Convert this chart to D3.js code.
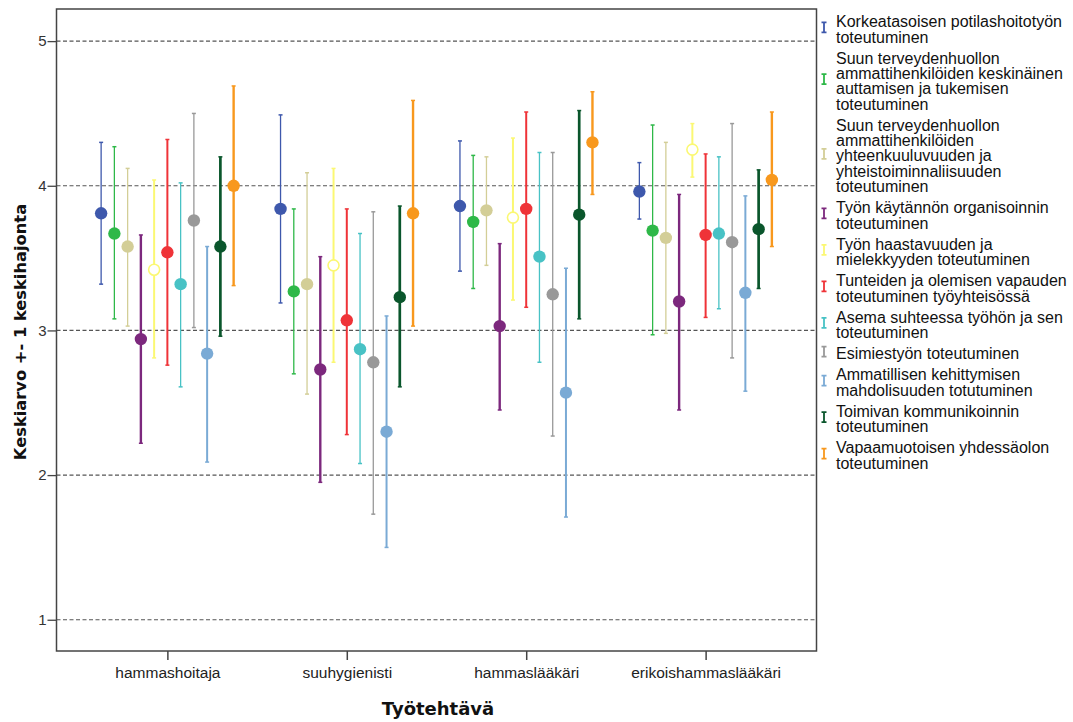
<!DOCTYPE html>
<html>
<head>
<meta charset="utf-8">
<script src="https://cdn.jsdelivr.net/npm/d3@7"></script>
<style>
  body { margin: 0; background: #fff; }
  svg { display: block; }
</style>
</head>
<body>
<div id="chart"></div>
<script>
// ***** DATA *****
var categories = ["hammashoitaja", "suuhygienisti", "hammaslääkäri", "erikoishammaslääkäri"];

var seriesNames = [
  ["Korkeatasoisen potilashoitotyön", "toteutuminen"],
  ["Suun terveydenhuollon", "ammattihenkilöiden keskinäinen", "auttamisen ja tukemisen", "toteutuminen"],
  ["Suun terveydenhuollon", "ammattihenkilöiden", "yhteenkuuluvuuden ja", "yhteistoiminnaliisuuden", "toteutuminen"],
  ["Työn käytännön organisoinnin", "toteutuminen"],
  ["Työn haastavuuden ja", "mielekkyyden toteutuminen"],
  ["Tunteiden ja olemisen vapauden", "toteutuminen työyhteisössä"],
  ["Asema suhteessa työhön ja sen", "toteutuminen"],
  ["Esimiestyön toteutuminen"],
  ["Ammatillisen kehittymisen", "mahdolisuuden totutuminen"],
  ["Toimivan kommunikoinnin", "toteutuminen"],
  ["Vapaamuotoisen yhdessäolon", "toteutuminen"]
];

var seriesColors = ["#3e58ac", "#2eb848", "#d3ce97", "#7c287d", "#fbf873", "#ef3338",
                    "#48c2c5", "#999999", "#7aaad5", "#0a562c", "#f8981d"];

// mean per series, one value per category
var means = [
  [3.81, 3.84, 3.86, 3.96],
  [3.67, 3.27, 3.75, 3.69],
  [3.58, 3.32, 3.83, 3.64],
  [2.94, 2.73, 3.03, 3.20],
  [3.42, 3.45, 3.78, 4.25],
  [3.54, 3.07, 3.84, 3.66],
  [3.32, 2.87, 3.51, 3.67],
  [3.76, 2.78, 3.25, 3.61],
  [2.84, 2.30, 2.57, 3.26],
  [3.58, 3.23, 3.80, 3.70],
  [4.00, 3.81, 4.30, 4.04]
];
// mean + 1 SD
var upper = [
  [4.30, 4.49, 4.31, 4.16],
  [4.27, 3.84, 4.21, 4.42],
  [4.12, 4.09, 4.20, 4.30],
  [3.66, 3.51, 3.60, 3.94],
  [4.04, 4.12, 4.33, 4.43],
  [4.32, 3.84, 4.51, 4.22],
  [4.02, 3.67, 4.23, 4.20],
  [4.50, 3.82, 4.23, 4.43],
  [3.58, 3.10, 3.43, 3.93],
  [4.20, 3.86, 4.52, 4.11],
  [4.69, 4.59, 4.65, 4.51]
];
// mean - 1 SD
var lower = [
  [3.32, 3.19, 3.41, 3.77],
  [3.08, 2.70, 3.29, 2.97],
  [3.03, 2.56, 3.45, 2.98],
  [2.22, 1.95, 2.45, 2.45],
  [2.81, 2.78, 3.21, 4.06],
  [2.76, 2.28, 3.16, 3.09],
  [2.61, 2.08, 2.78, 3.15],
  [3.02, 1.73, 2.27, 2.81],
  [2.09, 1.50, 1.71, 2.58],
  [2.96, 2.61, 3.08, 3.29],
  [3.31, 3.03, 3.94, 3.58]
];

var yTicks = [1, 2, 3, 4, 5];

// ***** SETUP *****
var W = 1073, H = 722;
var margin = {top: 9, right: 256.5, bottom: 71, left: 56.5};
var width = W - margin.left - margin.right;
var height = H - margin.top - margin.bottom;

var lineWidths = [1.3, 1.3, 1.3, 2.4, 2, 2, 1.3, 1.3, 2, 2.7, 2.4];
var openDot = [false, false, false, false, true, false, false, false, false, false, false];

var svg = d3.select("#chart").append("svg")
  .attr("width", W)
  .attr("height", H);

var g = svg.append("g")
  .attr("transform", "translate(" + margin.left + "," + margin.top + ")");

var xScale = d3.scalePoint()
  .domain(categories)
  .range([0, width])
  .padding(0.618);

var seriesIdx = d3.range(seriesNames.length);
var offset = d3.scaleLinear()
  .domain([0, seriesNames.length - 1])
  .range([-66.25, 66.25]);

var yScale = d3.scaleLinear()
  .domain([0.784, 5.222])
  .range([height, 0]);

// grid lines (dashed)
g.append("g").selectAll("line")
  .data(yTicks)
  .join("line")
  .attr("x1", 0).attr("x2", width)
  .attr("y1", d => yScale(d)).attr("y2", d => yScale(d))
  .attr("stroke", "#555")
  .attr("stroke-width", 1.2)
  .attr("stroke-dasharray", "4,2.5");

// y axis
var yAxis = g.append("g")
  .call(d3.axisLeft(yScale).tickValues(yTicks).tickSize(9).tickFormat(d3.format("d")));
yAxis.select(".domain").remove();
yAxis.selectAll("line").attr("stroke", "#444").attr("stroke-width", 1.3);
yAxis.selectAll("text")
  .attr("x", -10)
  .style("font-family", "'Liberation Sans', Arial, sans-serif")
  .style("font-size", "15px")
  .attr("fill", "#333");

// x axis
var xAxis = g.append("g")
  .attr("transform", "translate(0," + height + ")")
  .call(d3.axisBottom(xScale).tickSize(9).tickPadding(7));
xAxis.select(".domain").remove();
xAxis.selectAll("line").attr("stroke", "#444").attr("stroke-width", 1.5);
xAxis.selectAll("text")
  .style("font-family", "'Liberation Sans', Arial, sans-serif")
  .style("font-size", "15.5px")
  .attr("fill", "#222");

// frame
g.append("rect")
  .attr("width", width).attr("height", height)
  .attr("fill", "none")
  .attr("stroke", "#444")
  .attr("stroke-width", 1.5);

// error bars + means
seriesIdx.forEach(function(s) {
  var sg = g.append("g");
  var pts = categories.map((c, i) => ({c: c, m: means[s][i], hi: upper[s][i], lo: lower[s][i]}));
  var cx = d => xScale(d.c) + offset(s);

  sg.selectAll("line.bar").data(pts).join("line")
    .attr("class", "bar")
    .attr("x1", cx).attr("x2", cx)
    .attr("y1", d => yScale(d.hi)).attr("y2", d => yScale(d.lo))
    .attr("stroke", seriesColors[s])
    .attr("stroke-width", lineWidths[s]);

  ["hi", "lo"].forEach(function(k) {
    sg.selectAll("line.cap" + k).data(pts).join("line")
      .attr("class", "cap" + k)
      .attr("x1", d => cx(d) - 2).attr("x2", d => cx(d) + 2)
      .attr("y1", d => yScale(d[k])).attr("y2", d => yScale(d[k]))
      .attr("stroke", seriesColors[s])
      .attr("stroke-width", 1.5);
  });

  sg.selectAll("circle").data(pts).join("circle")
    .attr("cx", cx)
    .attr("cy", d => yScale(d.m))
    .attr("r", openDot[s] ? 5.5 : 6.2)
    .attr("fill", openDot[s] ? "#fff" : seriesColors[s])
    .attr("stroke", seriesColors[s])
    .attr("stroke-width", openDot[s] ? 1.6 : 0);
});

// axis titles
svg.append("text")
  .attr("x", 438).attr("y", 715)
  .attr("text-anchor", "middle")
  .style("font-family", "'DejaVu Sans', sans-serif")
  .style("font-weight", "bold")
  .style("font-size", "18px")
  .attr("fill", "#111")
  .text("Työtehtävä");

svg.append("text")
  .attr("transform", "translate(26,332) rotate(-90)")
  .attr("text-anchor", "middle")
  .style("font-family", "'DejaVu Sans', sans-serif")
  .style("font-weight", "bold")
  .style("font-size", "16.3px")
  .attr("fill", "#111")
  .text("Keskiarvo +- 1 keskihajonta");

// legend
var lineH = 15.3, itemGap = 5.9;
var legend = svg.append("g");
var ly = 21.7;
seriesIdx.forEach(function(s) {
  var lines = seriesNames[s];
  var mid = ly + (lines.length - 1) * lineH / 2 - 2;
  var mx = 824;
  legend.append("path")
    .attr("d", "M" + (mx - 2.5) + "," + (mid - 5) + "H" + (mx + 2.5) +
               "M" + mx + "," + (mid - 5) + "V" + (mid + 5) +
               "M" + (mx - 2.5) + "," + (mid + 5) + "H" + (mx + 2.5))
    .attr("fill", "none")
    .attr("stroke", seriesColors[s])
    .attr("stroke-width", 1.8);
  legend.append("text")
    .selectAll("tspan")
    .data(lines)
    .join("tspan")
    .attr("x", 836)
    .attr("y", (d, i) => ly + i * lineH)
    .attr("dominant-baseline", "central")
    .style("font-family", "'Liberation Sans', Arial, sans-serif")
    .style("font-size", "16px")
    .attr("fill", "#111")
    .text(d => d);
  ly += lines.length * lineH + itemGap;
});
</script>
</body>
</html>
